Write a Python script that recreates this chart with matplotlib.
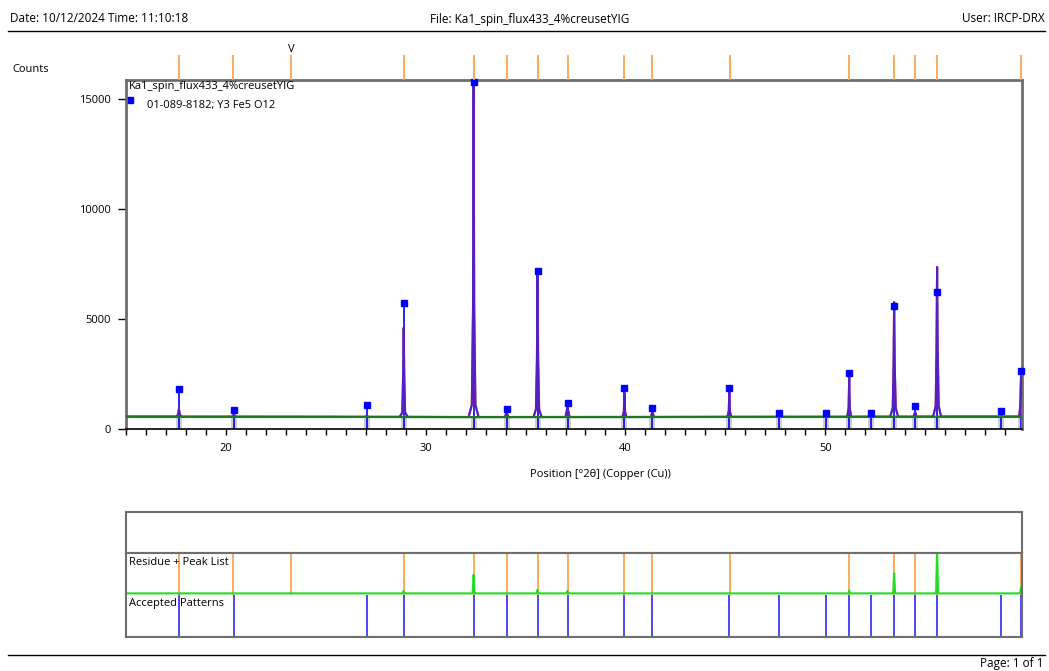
import matplotlib
matplotlib.use('Agg')
from matplotlib import pyplot as plt
from matplotlib.lines import Line2D
from matplotlib.ticker import MultipleLocator

plt.rcParams['font.family'] = ['Open Sans', 'DejaVu Sans']
plt.rcParams['font.size'] = 8

# reference pattern 01-089-8182 (Y3 Fe5 O12): stick positions and heights
ref_2theta = [17.65, 20.40, 27.05, 28.90, 32.40, 34.05, 35.60, 37.10, 39.95, 41.35,
              45.20, 47.70, 50.05, 51.20, 52.30, 53.45, 54.50, 55.60, 58.80, 59.80]
ref_counts = [1820, 860, 1090, 5730, 15770, 910, 7180, 1180, 1860, 950,
              1860, 730, 730, 2550, 730, 5570, 1050, 6230, 820, 2620]

# peak list (markers above the plot)
peak_2theta = [17.65, 20.35, 23.25, 28.90, 32.40, 34.05, 35.60, 37.10, 39.95, 41.35,
               45.25, 51.20, 53.45, 54.50, 55.60, 59.80]

obs_2theta = [15.00,
              17.50, 17.60, 17.65, 17.70, 17.80,
              20.30, 20.40, 20.50,
              26.97, 27.05, 27.13,
              28.70, 28.83, 28.87, 28.90, 28.93, 28.97, 29.10,
              32.15, 32.31, 32.37, 32.40, 32.43, 32.49, 32.65,
              33.97, 34.05, 34.13,
              35.40, 35.52, 35.57, 35.60, 35.63, 35.68, 35.80,
              37.00, 37.10, 37.20,
              39.85, 39.92, 39.95, 39.98, 40.05,
              41.27, 41.35, 41.43,
              45.10, 45.17, 45.20, 45.23, 45.30,
              47.62, 47.70, 47.78,
              49.97, 50.05, 50.13,
              51.10, 51.17, 51.20, 51.23, 51.30,
              52.22, 52.30, 52.38,
              53.25, 53.38, 53.42, 53.45, 53.48, 53.53, 53.65,
              54.42, 54.50, 54.58,
              55.40, 55.53, 55.57, 55.60, 55.63, 55.68, 55.80,
              58.72, 58.80, 58.88,
              59.70, 59.76, 59.80, 59.85]
obs_counts = [560,
              560, 640, 910, 640, 555,
              555, 650, 555,
              550, 600, 550,
              550, 750, 2400, 4600, 2400, 750, 550,
              545, 1100, 5500, 15730, 5500, 1100, 545,
              545, 770, 545,
              545, 900, 3200, 7270, 3200, 900, 545,
              545, 1000, 545,
              545, 800, 1640, 800, 545,
              545, 770, 545,
              550, 800, 1680, 800, 550,
              550, 580, 550,
              550, 580, 550,
              550, 950, 2360, 950, 550,
              555, 580, 555,
              555, 950, 2900, 5770, 2900, 950, 555,
              555, 770, 555,
              560, 1050, 3600, 7360, 3600, 1050, 560,
              560, 600, 560,
              560, 1000, 2360, 1500]

# fitted background
bg_2theta = [15.0, 25.0, 31.0, 40.0, 50.0, 59.85]
bg_counts = [560, 555, 540, 545, 555, 560]

# residue (observed - calculated)
res_2theta = [15.0, 28.85, 28.90, 28.95, 32.35, 32.40, 32.45, 35.55, 35.60, 35.65,
              37.05, 37.10, 37.15, 51.15, 51.20, 51.25, 53.40, 53.45, 53.50,
              55.55, 55.60, 55.65, 59.75, 59.80, 59.85]
res_counts = [0, 0, 60, 0, 0, 460, 0, 0, 90, 0,
              0, 60, 0, 0, 70, 0, 0, 500, 0,
              0, 1100, 0, 0, 150, 100]

W, H = 1049, 671
fig = plt.figure(figsize=(W / 100, H / 100), dpi=100)

def box(x0, y0, x1, y1):
    # pixel box (top-left origin) -> figure rect
    return [x0 / W, 1 - y1 / H, (x1 - x0) / W, (y1 - y0) / H]

frame_col = '#6e6e6e'
orange = '#ff9b45'
xmin, xmax = 15.0, 59.85

# main pattern
ax = fig.add_axes(box(126, 80, 1022, 429))
ax.bar(ref_2theta, [540] * len(ref_2theta), width=0.3, color='#cfcfcf', zorder=1)
ax.vlines(ref_2theta, 0, ref_counts, color='#0000ff', lw=1.2, zorder=2)
ax.plot(obs_2theta, obs_counts, color='#e8201a', lw=1.5, zorder=3)
ax.plot(obs_2theta, obs_counts, color='#2020ff', lw=1.5, alpha=0.75, zorder=4)
ax.plot(bg_2theta, bg_counts, color='#1e7a1e', lw=1.6, zorder=5)
ax.plot(ref_2theta, ref_counts, 's', color='#0000ff', ms=5, zorder=6, clip_on=False)
ax.set_xlim(xmin, xmax)
ax.set_ylim(0, 15860)
ax.xaxis.set_major_locator(MultipleLocator(10))
ax.xaxis.set_minor_locator(MultipleLocator(1))
ax.yaxis.set_major_locator(MultipleLocator(5000))
ax.tick_params(axis='x', which='both', direction='out', length=4, width=1, pad=6)
ax.tick_params(axis='y', direction='out', length=6, width=1, pad=5)
for side in ['top', 'right', 'bottom', 'left']:
    ax.spines[side].set_color(frame_col)
    ax.spines[side].set_linewidth(2)
ax.spines['bottom'].set_color('black')
ax.spines['bottom'].set_linewidth(1.2)
ax.set_xlabel('Position [°2θ] (Copper (Cu))', labelpad=6)
ax.xaxis.set_label_coords(0.529, -0.115)
ax.text(0.0035, 0.98, 'Ka1_spin_flux433_4%creusetYIG', transform=ax.transAxes,
        ha='left', va='center')
ax.plot([0.005], [0.943], 's', color='#0000ff', ms=4, transform=ax.transAxes)
ax.text(0.0235, 0.928, '01-089-8182; Y3 Fe5 O12', transform=ax.transAxes,
        ha='left', va='center')

# peak markers above the plot
ax_top = fig.add_axes(box(126, 55, 1022, 80))
ax_top.vlines(peak_2theta, 0, 1, color=orange, lw=1.2)
ax_top.set_xlim(xmin, xmax)
ax_top.set_ylim(0, 1)
ax_top.axis('off')
ax_top.text(23.25, 1.22, 'V', ha='center', va='center', fontsize=8)

# lower panels
ax_blank = fig.add_axes(box(126, 512, 1022, 553))
ax_res = fig.add_axes(box(126, 553, 1022, 595))
ax_acc = fig.add_axes(box(126, 595, 1022, 637))
for a in [ax_blank, ax_res, ax_acc]:
    a.set_xlim(xmin, xmax)
    a.set_xticks([])
    a.set_yticks([])
    for side in ['top', 'right', 'bottom', 'left']:
        a.spines[side].set_color(frame_col)
        a.spines[side].set_linewidth(1.5)
ax_res.spines['bottom'].set_visible(False)
ax_acc.spines['top'].set_visible(False)

ax_res.vlines(peak_2theta, 0, 1, color=orange, lw=1.2, transform=ax_res.get_xaxis_transform())
ax_res.plot(res_2theta, res_counts, color='#22dd22', lw=1.5, clip_on=True)
ax_res.set_ylim(-40, 1000)
ax_res.text(0.0035, 0.78, 'Residue + Peak List', transform=ax_res.transAxes, ha='left', va='center')

ax_acc.vlines(ref_2theta, 0, 1, color='#2a2aff', lw=1.2)
ax_acc.set_ylim(0, 1)
ax_acc.text(0.0035, 0.8, 'Accepted Patterns', transform=ax_acc.transAxes, ha='left', va='center')

# page header / footer
fig.text(10 / W, 1 - 19 / H, 'Date: 10/12/2024 Time: 11:10:18', ha='left', va='center', fontsize=8.5)
fig.text(530 / W, 1 - 19 / H, 'File: Ka1_spin_flux433_4%creusetYIG', ha='center', va='center', fontsize=8.5)
fig.text(1045 / W, 1 - 19 / H, 'User: IRCP-DRX', ha='right', va='center', fontsize=8.5)
fig.text(12 / W, 1 - 69 / H, 'Counts', ha='left', va='center')
fig.text(1044 / W, 1 - 664 / H, 'Page: 1 of 1', ha='right', va='center', fontsize=8.5)
fig.add_artist(Line2D([8 / W, 1045 / W], [1 - 31 / H] * 2, color='black', lw=1))
fig.add_artist(Line2D([8 / W, 1045 / W], [1 - 655 / H] * 2, color='black', lw=1))

fig.savefig('out.png', dpi=100)
